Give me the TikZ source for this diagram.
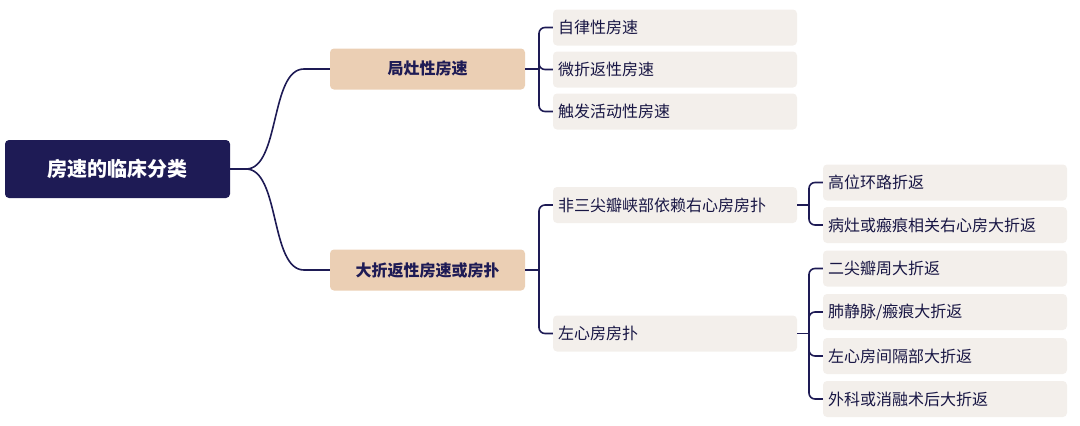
\documentclass[tikz,border=0pt]{standalone}
\usepackage{fontspec}
\setmainfont{Noto Sans CJK SC}
\usepackage{tikz}
\definecolor{navy}{HTML}{1E1B55}
\definecolor{tan}{HTML}{EBCFB4}
\definecolor{pale}{HTML}{F3EFEB}
\tikzset{
  rootbox/.style={fill=navy, text=white, rounded corners=4pt, minimum width=225pt, minimum height=58pt, font=\fontsize{20}{24}\selectfont\bfseries},
  midbox/.style={fill=tan, text=navy, rounded corners=4pt, minimum width=195pt, minimum height=41pt, font=\fontsize{16}{20}\selectfont\bfseries},
  leafbox/.style={fill=pale, text=navy!80!black, rounded corners=4pt, minimum width=244pt, minimum height=36pt, text width=234pt, align=left, font=\fontsize{16}{20}\selectfont},
  link/.style={draw=navy, line width=1.6pt, rounded corners=6pt}
}
\begin{document}
\begin{tikzpicture}[x=1pt,y=-1pt]
\useasboundingbox (0,0) rectangle (1080,426);
\node[rootbox] (root) at (117.5,169) {房速的临床分类};
\node[midbox] (focal) at (427.5,69) {局灶性房速};
\node[midbox] (macro) at (427.5,270) {大折返性房速或房扑};

\node[leafbox] (auto) at (675,27.5) {自律性房速};
\node[leafbox] (micro) at (675,69.5) {微折返性房速};
\node[leafbox] (trig) at (675,111.5) {触发活动性房速};
\node[leafbox] (nonct) at (675,205) {非三尖瓣峡部依赖右心房房扑};
\node[leafbox] (left) at (675,333.5) {左心房房扑};

\node[leafbox] (high) at (945,182.5) {高位环路折返};
\node[leafbox] (scarr) at (945,225) {病灶或瘢痕相关右心房大折返};
\node[leafbox] (mitral) at (945,268.5) {二尖瓣周大折返};
\node[leafbox] (pv) at (945,312) {肺静脉/瘢痕大折返};
\node[leafbox] (septum) at (945,356) {左心房间隔部大折返};
\node[leafbox] (surg) at (945,399) {外科或消融术后大折返};

% root to level one
\draw[link] (root.east) -- (240,169) .. controls (280,169) and (270,69) .. (310,69) -- (focal.west);
\draw[link] (root.east) -- (240,169) .. controls (280,169) and (270,270) .. (310,270) -- (macro.west);

% brackets
\draw[link] (focal.east) -- (539,69);
\draw[link] (539,69) |- (auto.west);
\draw[link] (539,69) |- (micro.west);
\draw[link] (539,69) |- (trig.west);

\draw[link] (macro.east) -- (539,270);
\draw[link] (539,270) |- (nonct.west);
\draw[link] (539,270) |- (left.west);

\draw[link] (nonct.east) -- (809,205);
\draw[link] (809,205) |- (high.west);
\draw[link] (809,205) |- (scarr.west);

\draw[link] (left.east) -- (809,333.5);
\draw[link] (809,333.5) |- (mitral.west);
\draw[link] (809,333.5) |- (pv.west);
\draw[link] (809,333.5) |- (septum.west);
\draw[link] (809,333.5) |- (surg.west);
\end{tikzpicture}
\end{document}
